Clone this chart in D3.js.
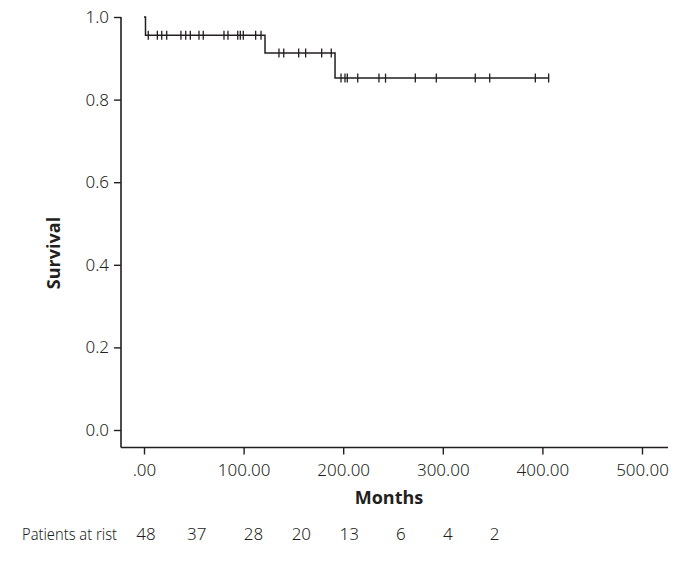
<!DOCTYPE html>
<html>
<head>
<meta charset="utf-8">
<script src="https://cdn.jsdelivr.net/npm/d3@7"></script>
<style>
html,body{margin:0;padding:0;background:#fff;}
svg{display:block;}
text{font-family:"Noto Sans",sans-serif;fill:#231f20;font-weight:300;}
</style>
</head>
<body>
<svg id="chart" width="683" height="565"></svg>
<script>
// Kaplan-Meier step data (months, survival)
const stepTimes = [0, 1.5, 121.5, 191.8];
const stepSurv  = [1.0, 0.956, 0.913, 0.852];
const endTime = 406.3;
// censored observations (months)
const censorTimes = [4.3, 13.4, 17.8, 22.8, 37.1, 41.9, 46.5, 55.2, 59.5, 80.3, 84.3, 94.1, 96.7, 99.7, 112.1, 117.5,
  135.5, 140.3, 155.3, 162.3, 178.4, 188.0,
  197.8, 201.8, 204.1, 214.6, 235.9, 242.5, 272.4, 293.5, 332.6, 347.1, 392.9, 406.3];
const xTicks = [0, 100, 200, 300, 400, 500];
const xTickLabels = [".00", "100.00", "200.00", "300.00", "400.00", "500.00"];
const yTicks = [0, 0.2, 0.4, 0.6, 0.8, 1.0];
const yTickLabels = ["0.0", "0.2", "0.4", "0.6", "0.8", "1.0"];
const riskLabel = "Patients at rist";
const riskTimes = [2, 53, 110, 158, 206, 258, 305, 352];
const riskCounts = [48, 37, 28, 20, 13, 6, 4, 2];

const svg = d3.select("#chart");
const x = d3.scaleLinear().domain([0, 500]).range([144, 642]);
const y = d3.scaleLinear().domain([0, 1]).range([430, 17]);
const ink = "#231f20";

// axes (offset SPSS style)
const yAxisX = 121, xAxisY = 447.5;
const gy = svg.append("g").attr("transform", `translate(${yAxisX},0)`)
  .call(d3.axisLeft(y).tickValues(yTicks).tickFormat((d,i)=>yTickLabels[i]).tickSize(7).tickPadding(5).tickSizeOuter(0));
gy.select(".domain").remove();
gy.append("line").attr("x1",0).attr("x2",0).attr("y1",17).attr("y2",xAxisY).attr("stroke",ink).attr("stroke-width",1.6);
gy.selectAll(".tick line").attr("stroke",ink).attr("stroke-width",1.4);
gy.selectAll(".tick text").attr("font-size",17).attr("fill",ink).attr("font-family",null);

const gx = svg.append("g").attr("transform", `translate(0,${xAxisY})`)
  .call(d3.axisBottom(x).tickValues(xTicks).tickFormat((d,i)=>xTickLabels[i]).tickSize(7).tickPadding(9).tickSizeOuter(0));
gx.select(".domain").remove();
gx.append("line").attr("x1",yAxisX).attr("x2",668).attr("y1",0).attr("y2",0).attr("stroke",ink).attr("stroke-width",1.6);
gx.selectAll(".tick line").attr("stroke",ink).attr("stroke-width",1.4);
gx.selectAll(".tick text").attr("font-size",17).attr("fill",ink);

// axis titles
svg.append("text").attr("x", 389).attr("y", 504).attr("text-anchor","middle")
  .attr("font-size",18).style("font-weight","bold").style("font-family","'Open Sans','Noto Sans',sans-serif").text("Months");
svg.append("text").attr("transform","translate(60,253) rotate(-90)").attr("text-anchor","middle")
  .attr("font-size",18).style("font-weight","bold").style("font-family","'Open Sans','Noto Sans',sans-serif").text("Survival");

// survival step curve
function survAt(t){ let s = stepSurv[0]; for (let i=0;i<stepTimes.length;i++){ if (t >= stepTimes[i]) s = stepSurv[i]; } return s; }
const pts = stepTimes.map((t,i)=>[t, stepSurv[i]]).concat([[endTime, stepSurv[stepSurv.length-1]]]);
const line = d3.line().x(d=>x(d[0])).y(d=>y(d[1])).curve(d3.curveStepAfter);
svg.append("path").attr("d", line(pts)).attr("fill","none").attr("stroke",ink).attr("stroke-width",1.5);

// censor marks
svg.append("g").selectAll("line").data(censorTimes).join("line")
  .attr("x1", d=>x(d)).attr("x2", d=>x(d))
  .attr("y1", d=>y(survAt(d))-4.5).attr("y2", d=>y(survAt(d))+4.5)
  .attr("stroke", ink).attr("stroke-width", 1.3);

// patients at risk row
svg.append("text").attr("x", 22).attr("y", 540).attr("font-size",17)
  .attr("textLength", 95).attr("lengthAdjust","spacingAndGlyphs").text(riskLabel);
svg.append("g").selectAll("text").data(riskCounts).join("text")
  .attr("x", (d,i)=>x(riskTimes[i])).attr("y", 540).attr("text-anchor","middle").attr("font-size",17)
  .text(d=>d);
</script>
</body>
</html>
